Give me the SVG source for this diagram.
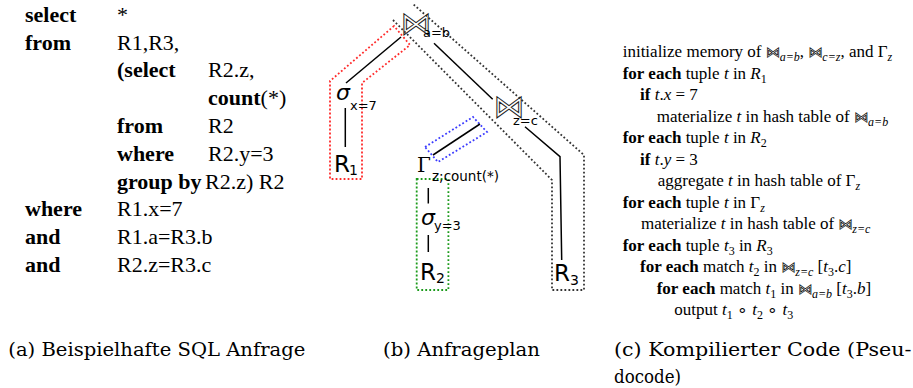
<svg xmlns="http://www.w3.org/2000/svg" width="913" height="388" viewBox="0 0 913 388">
<style>
.sql{font-family:"Liberation Serif","Times New Roman",serif;font-size:22px;fill:#000}
.b{font-weight:bold}
.pc{font-family:"Liberation Serif","Times New Roman",serif;font-size:17px;fill:#000}
.i{font-style:italic}
.sub{font-size:12px;font-style:italic}
.bt{font-family:"DejaVu Sans",sans-serif;font-size:14px;font-style:normal;fill:none;stroke:#000;stroke-width:0.7}
.cap{font-family:"DejaVu Serif",serif;font-size:19px;fill:#000}
.pl{font-family:"DejaVu Sans",sans-serif;fill:#000}
.bow{font-family:"DejaVu Sans",sans-serif;font-size:31px;fill:none;stroke:#222;stroke-width:1;letter-spacing:-8px}
.lbl{font-size:13px}
.rel{font-size:23px}
.rsub{font-size:14px}
.edge{stroke:#000;stroke-width:1.5;fill:none}
.dot{fill:none;stroke-width:1.8;stroke-dasharray:1.8 2.2}
</style>

<g id="sql-query">
<text class="sql b" x="25" y="21.7">select</text>
<text class="sql" x="117" y="21.7">*</text>
<text class="sql b" x="25" y="49.5">from</text>
<text class="sql" x="117" y="49.5">R1,R3,</text>
<text class="sql b" x="117" y="77.3">(select</text>
<text class="sql" x="208" y="77.3">R2.z,</text>
<text class="sql" x="208" y="105.1"><tspan class="b">count</tspan>(*)</text>
<text class="sql b" x="117" y="132.9">from</text>
<text class="sql" x="208" y="132.9">R2</text>
<text class="sql b" x="117" y="160.7">where</text>
<text class="sql" x="208" y="160.7">R2.y=3</text>
<text class="sql b" x="117" y="188.5">group by</text>
<text class="sql" x="205" y="188.5">R2.z) R2</text>
<text class="sql b" x="25" y="216.3">where</text>
<text class="sql" x="117" y="216.3">R1.x=7</text>
<text class="sql b" x="25" y="244.1">and</text>
<text class="sql" x="117" y="244.1">R1.a=R3.b</text>
<text class="sql b" x="25" y="271.9">and</text>
<text class="sql" x="117" y="271.9">R2.z=R3.c</text>
</g>

<g id="plan-regions">
<polygon class="dot" stroke="#ff2a2a" points="394,26 330,81 330,179 362,179 362,83 410,45"/>
<polyline class="dot" stroke="#333" points="393,20 552,180 552,290 584,290 584,155 413,4"/>
<polygon class="dot" stroke="#3b3bff" points="425,147 473,117 487,132 438,162"/>
<rect class="dot" stroke="#1a9a1a" x="416.7" y="179" width="31.7" height="111"/>
</g>

<g id="connectors">
<line class="edge" x1="401" y1="37" x2="346" y2="83"/>
<line class="edge" x1="434" y1="43.3" x2="492.7" y2="99.3"/>
<polyline class="edge" points="525,126.7 560,156.7 561.7,260"/>
<line class="edge" x1="480" y1="124" x2="433" y2="155"/>
<line class="edge" stroke-width="2.5" x1="345.3" y1="108" x2="345.3" y2="147"/>
<line class="edge" x1="428.3" y1="188" x2="428.3" y2="203.5"/>
<line class="edge" x1="428.3" y1="235" x2="428.3" y2="252"/>
</g>

<g id="join-ab">
<text class="bow" x="400.5" y="33.5">⋈</text>
<text class="pl lbl" x="423" y="37">a=b</text>
</g>
<g id="select-x7">
<text class="pl" x="336" y="100" font-size="22" font-style="italic">σ</text>
<text class="pl lbl" x="350" y="110">x=7</text>
</g>
<g id="R1">
<text class="pl rel" x="334" y="172">R</text>
<text class="pl rsub" x="349" y="175">1</text>
</g>
<g id="join-zc">
<text class="bow" x="493.5" y="116.5">⋈</text>
<text class="pl lbl" x="513" y="125">z=c</text>
</g>
<g id="groupby">
<text x="417" y="172" font-family="DejaVu Serif, serif" font-size="20">Γ</text>
<text class="pl" x="432" y="181" font-size="13.5">z;count(*)</text>
</g>
<g id="select-y3">
<text class="pl" x="421" y="225" font-size="22" font-style="italic">σ</text>
<text class="pl lbl" x="434" y="230">y=3</text>
</g>
<g id="R2">
<text class="pl rel" x="420" y="280">R</text>
<text class="pl rsub" x="436" y="283">2</text>
</g>
<g id="R3">
<text class="pl rel" x="554" y="281">R</text>
<text class="pl rsub" x="570" y="285">3</text>
</g>

<g id="pseudocode">
<text class="pc" x="622.7" y="57">initialize memory of <tspan class="bt">⋈</tspan><tspan class="sub" dy="4">a=b</tspan><tspan dy="-4">, </tspan><tspan class="bt">⋈</tspan><tspan class="sub" dy="4">c=z</tspan><tspan dy="-4">, and Γ</tspan><tspan class="sub" dy="4">z</tspan></text>
<text class="pc" x="622.7" y="78.5"><tspan class="b">for each</tspan> tuple <tspan class="i">t</tspan> in <tspan class="i">R</tspan><tspan font-size="12" dy="4">1</tspan></text>
<text class="pc" x="640" y="100"><tspan class="b">if</tspan> <tspan class="i">t</tspan>.<tspan class="i">x</tspan> = 7</text>
<text class="pc" x="656.7" y="121.5">materialize <tspan class="i">t</tspan> in hash table of <tspan class="bt">⋈</tspan><tspan class="sub" dy="4">a=b</tspan></text>
<text class="pc" x="622.7" y="143"><tspan class="b">for each</tspan> tuple <tspan class="i">t</tspan> in <tspan class="i">R</tspan><tspan font-size="12" dy="4">2</tspan></text>
<text class="pc" x="640" y="164.5"><tspan class="b">if</tspan> <tspan class="i">t</tspan>.<tspan class="i">y</tspan> = 3</text>
<text class="pc" x="657.7" y="186">aggregate <tspan class="i">t</tspan> in hash table of Γ<tspan class="sub" dy="4">z</tspan></text>
<text class="pc" x="622.7" y="207.5"><tspan class="b">for each</tspan> tuple <tspan class="i">t</tspan> in Γ<tspan class="sub" dy="4">z</tspan></text>
<text class="pc" x="641" y="229">materialize <tspan class="i">t</tspan> in hash table of <tspan class="bt">⋈</tspan><tspan class="sub" dy="4">z=c</tspan></text>
<text class="pc" x="622.7" y="250.5"><tspan class="b">for each</tspan> tuple <tspan class="i">t</tspan><tspan font-size="12" dy="4">3</tspan><tspan dy="-4"> in </tspan><tspan class="i">R</tspan><tspan font-size="12" dy="4">3</tspan></text>
<text class="pc" x="640" y="272"><tspan class="b">for each</tspan> match <tspan class="i">t</tspan><tspan font-size="12" dy="4">2</tspan><tspan dy="-4"> in </tspan><tspan class="bt">⋈</tspan><tspan class="sub" dy="4">z=c</tspan><tspan dy="-4"> [</tspan><tspan class="i">t</tspan><tspan font-size="12" dy="4">3</tspan><tspan dy="-4">.</tspan><tspan class="i">c</tspan>]</text>
<text class="pc" x="656.7" y="293.5"><tspan class="b">for each</tspan> match <tspan class="i">t</tspan><tspan font-size="12" dy="4">1</tspan><tspan dy="-4"> in </tspan><tspan class="bt">⋈</tspan><tspan class="sub" dy="4">a=b</tspan><tspan dy="-4"> [</tspan><tspan class="i">t</tspan><tspan font-size="12" dy="4">3</tspan><tspan dy="-4">.</tspan><tspan class="i">b</tspan>]</text>
<text class="pc" x="674.3" y="315">output <tspan class="i">t</tspan><tspan font-size="12" dy="4">1</tspan><tspan dy="-4"> ∘ </tspan><tspan class="i">t</tspan><tspan font-size="12" dy="4">2</tspan><tspan dy="-4"> ∘ </tspan><tspan class="i">t</tspan><tspan font-size="12" dy="4">3</tspan></text>
</g>

<g id="captions">
<text class="cap" x="8.3" y="356" textLength="297" lengthAdjust="spacingAndGlyphs">(a) Beispielhafte SQL Anfrage</text>
<text class="cap" x="383" y="356" textLength="157" lengthAdjust="spacingAndGlyphs">(b) Anfrageplan</text>
<text class="cap" x="614" y="356" textLength="297.5" lengthAdjust="spacingAndGlyphs">(c) Kompilierter Code (Pseu-</text>
<text class="cap" x="614" y="383" textLength="67" lengthAdjust="spacingAndGlyphs">docode)</text>
</g>
</svg>
